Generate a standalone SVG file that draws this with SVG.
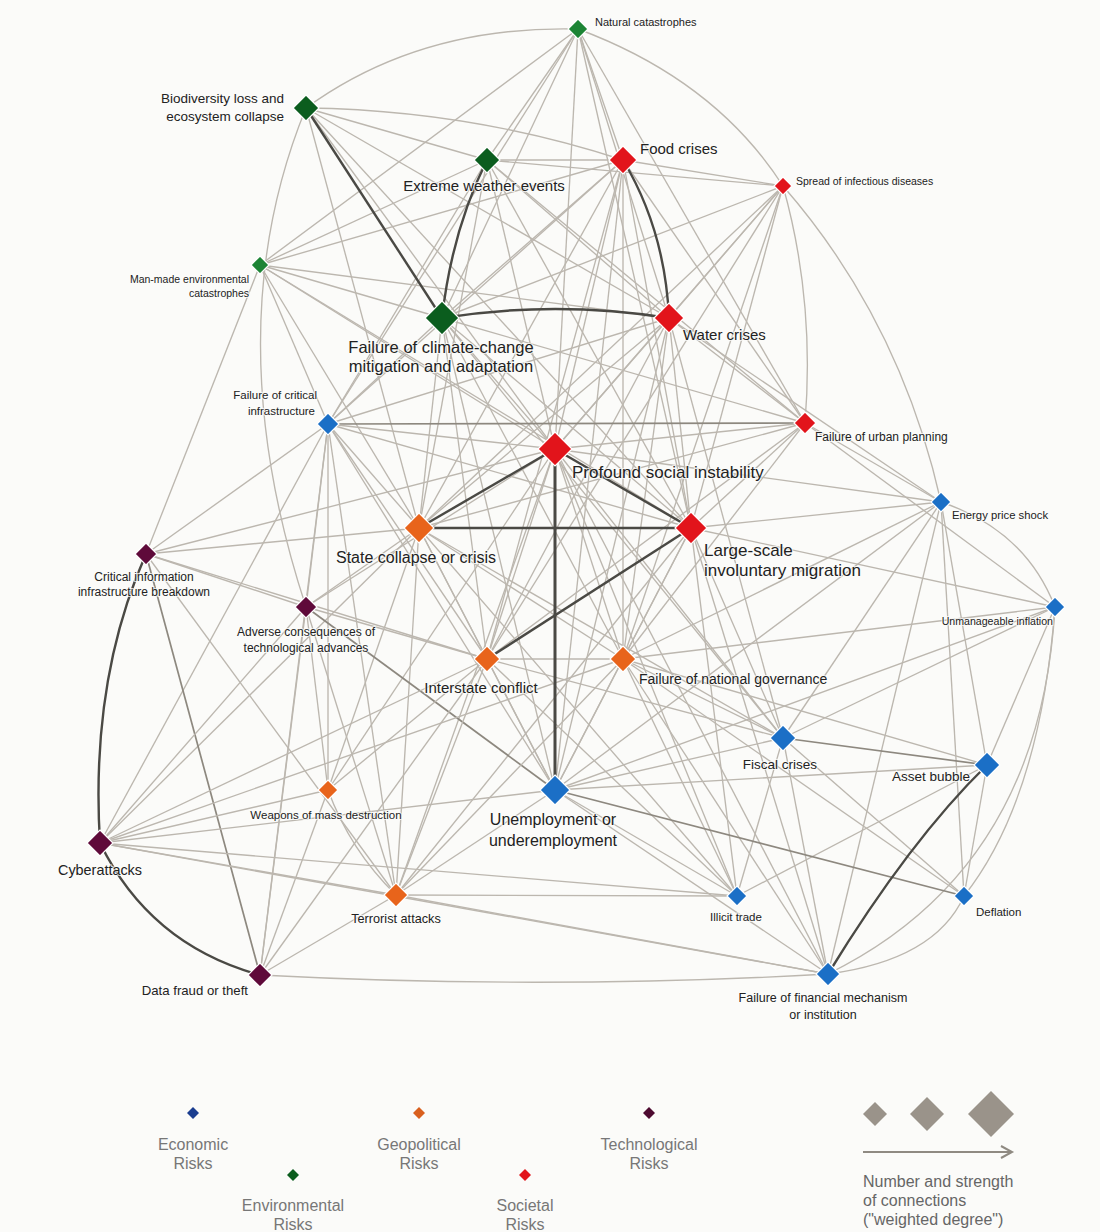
<svg xmlns="http://www.w3.org/2000/svg" width="1100" height="1232" viewBox="0 0 1100 1232">
<style>
.e{stroke:#bcb7af;stroke-width:1.35;fill:none}
.m{stroke:#8d887f;stroke-width:1.7;fill:none}
.d{stroke:#4a4944;stroke-width:2.4;fill:none}
.env{fill:#0b5d1e;stroke:#fff;stroke-width:1.2}
.env2{fill:#1c8434;stroke:#fff;stroke-width:1.2}
.soc{fill:#e2141b;stroke:#fff;stroke-width:1.2}
.geo{fill:#e8641b;stroke:#fff;stroke-width:1.2}
.eco{fill:#1b6fc6;stroke:#fff;stroke-width:1.2}
.tech{fill:#5f0a3a;stroke:#fff;stroke-width:1.2}
text{font-family:"Liberation Sans",Arial,sans-serif;fill:#222;stroke:#fbfbf9;stroke-width:2.2;stroke-opacity:0.75;paint-order:stroke}
.s{font-size:11px}
.sm{font-size:12px}
.md{font-size:13.5px}
.lg{font-size:15px}
.xl{font-size:17px}
.mid{text-anchor:middle}
.end{text-anchor:end}
.leg{font-size:16px;fill:#777;text-anchor:middle;stroke:none}
.leg2{font-size:16px;fill:#666;stroke:none}
</style>
<rect width="1100" height="1232" fill="#fbfbf9"/>
<g id="connectors">
<path class="e" d="M578,29 Q420,25 306,108"/>
<path class="e" d="M578,29 Q715,80 783,186"/>
<path class="e" d="M306,108 Q215,330 306,607"/>
<line class="e" x1="578" y1="29" x2="487" y2="160"/>
<line class="e" x1="578" y1="29" x2="442" y2="318"/>
<line class="e" x1="578" y1="29" x2="260" y2="265"/>
<line class="e" x1="578" y1="29" x2="623" y2="160"/>
<line class="e" x1="578" y1="29" x2="669" y2="318"/>
<line class="e" x1="578" y1="29" x2="555" y2="449"/>
<line class="e" x1="578" y1="29" x2="691" y2="528"/>
<line class="e" x1="578" y1="29" x2="328" y2="424"/>
<line class="e" x1="578" y1="29" x2="805" y2="423"/>
<line class="e" x1="306" y1="108" x2="487" y2="160"/>
<path class="e" d="M306,108 Q470,110 623,160"/>
<line class="e" x1="306" y1="108" x2="669" y2="318"/>
<line class="e" x1="306" y1="108" x2="555" y2="449"/>
<line class="e" x1="306" y1="108" x2="691" y2="528"/>
<line class="e" x1="306" y1="108" x2="419" y2="528"/>
<line class="e" x1="487" y1="160" x2="623" y2="160"/>
<line class="e" x1="487" y1="160" x2="669" y2="318"/>
<line class="e" x1="487" y1="160" x2="260" y2="265"/>
<line class="e" x1="487" y1="160" x2="555" y2="449"/>
<line class="e" x1="487" y1="160" x2="691" y2="528"/>
<line class="e" x1="487" y1="160" x2="328" y2="424"/>
<line class="e" x1="487" y1="160" x2="419" y2="528"/>
<line class="e" x1="487" y1="160" x2="805" y2="423"/>
<line class="e" x1="487" y1="160" x2="783" y2="186"/>
<line class="e" x1="623" y1="160" x2="783" y2="186"/>
<line class="e" x1="623" y1="160" x2="555" y2="449"/>
<line class="e" x1="623" y1="160" x2="691" y2="528"/>
<line class="e" x1="623" y1="160" x2="419" y2="528"/>
<line class="e" x1="623" y1="160" x2="442" y2="318"/>
<line class="e" x1="623" y1="160" x2="260" y2="265"/>
<line class="e" x1="623" y1="160" x2="487" y2="659"/>
<line class="e" x1="623" y1="160" x2="623" y2="659"/>
<line class="e" x1="623" y1="160" x2="805" y2="423"/>
<line class="e" x1="623" y1="160" x2="328" y2="424"/>
<line class="e" x1="623" y1="160" x2="555" y2="790"/>
<line class="e" x1="783" y1="186" x2="555" y2="449"/>
<line class="e" x1="783" y1="186" x2="691" y2="528"/>
<line class="e" x1="783" y1="186" x2="442" y2="318"/>
<line class="e" x1="783" y1="186" x2="669" y2="318"/>
<line class="e" x1="783" y1="186" x2="623" y2="659"/>
<line class="e" x1="783" y1="186" x2="419" y2="528"/>
<path class="e" d="M783,186 Q815,300 805,423"/>
<path class="e" d="M783,186 Q900,320 941,502"/>
<line class="e" x1="783" y1="186" x2="487" y2="659"/>
<line class="e" x1="260" y1="265" x2="442" y2="318"/>
<line class="e" x1="260" y1="265" x2="669" y2="318"/>
<line class="e" x1="260" y1="265" x2="555" y2="449"/>
<line class="e" x1="260" y1="265" x2="328" y2="424"/>
<line class="e" x1="260" y1="265" x2="691" y2="528"/>
<line class="e" x1="260" y1="265" x2="146" y2="554"/>
<line class="e" x1="260" y1="265" x2="419" y2="528"/>
<line class="e" x1="442" y1="318" x2="555" y2="449"/>
<line class="e" x1="442" y1="318" x2="691" y2="528"/>
<line class="e" x1="442" y1="318" x2="419" y2="528"/>
<line class="e" x1="442" y1="318" x2="487" y2="659"/>
<line class="e" x1="442" y1="318" x2="328" y2="424"/>
<line class="e" x1="442" y1="318" x2="805" y2="423"/>
<line class="e" x1="442" y1="318" x2="623" y2="659"/>
<line class="e" x1="442" y1="318" x2="555" y2="790"/>
<line class="e" x1="442" y1="318" x2="783" y2="738"/>
<line class="e" x1="669" y1="318" x2="555" y2="449"/>
<line class="e" x1="669" y1="318" x2="691" y2="528"/>
<line class="e" x1="669" y1="318" x2="419" y2="528"/>
<line class="e" x1="669" y1="318" x2="487" y2="659"/>
<line class="e" x1="669" y1="318" x2="623" y2="659"/>
<line class="e" x1="669" y1="318" x2="805" y2="423"/>
<line class="e" x1="669" y1="318" x2="328" y2="424"/>
<line class="e" x1="669" y1="318" x2="555" y2="790"/>
<line class="e" x1="669" y1="318" x2="941" y2="502"/>
<line class="e" x1="669" y1="318" x2="783" y2="738"/>
<line class="m" x1="328" y1="424" x2="805" y2="423"/>
<line class="e" x1="328" y1="424" x2="146" y2="554"/>
<line class="e" x1="328" y1="424" x2="306" y2="607"/>
<line class="e" x1="328" y1="424" x2="100" y2="843"/>
<line class="e" x1="328" y1="424" x2="419" y2="528"/>
<line class="e" x1="328" y1="424" x2="487" y2="659"/>
<line class="e" x1="328" y1="424" x2="555" y2="449"/>
<line class="e" x1="328" y1="424" x2="555" y2="790"/>
<line class="e" x1="328" y1="424" x2="328" y2="790"/>
<line class="e" x1="328" y1="424" x2="396" y2="895"/>
<line class="e" x1="328" y1="424" x2="691" y2="528"/>
<line class="e" x1="328" y1="424" x2="260" y2="975"/>
<line class="e" x1="805" y1="423" x2="555" y2="449"/>
<line class="e" x1="805" y1="423" x2="691" y2="528"/>
<line class="e" x1="805" y1="423" x2="419" y2="528"/>
<line class="e" x1="805" y1="423" x2="941" y2="502"/>
<line class="e" x1="805" y1="423" x2="1055" y2="607"/>
<line class="e" x1="805" y1="423" x2="623" y2="659"/>
<line class="e" x1="805" y1="423" x2="487" y2="659"/>
<line class="e" x1="555" y1="449" x2="487" y2="659"/>
<line class="e" x1="555" y1="449" x2="623" y2="659"/>
<line class="e" x1="555" y1="449" x2="783" y2="738"/>
<line class="e" x1="555" y1="449" x2="396" y2="895"/>
<line class="e" x1="555" y1="449" x2="737" y2="896"/>
<line class="e" x1="555" y1="449" x2="146" y2="554"/>
<line class="e" x1="555" y1="449" x2="306" y2="607"/>
<line class="e" x1="555" y1="449" x2="328" y2="790"/>
<line class="e" x1="555" y1="449" x2="941" y2="502"/>
<line class="e" x1="555" y1="449" x2="828" y2="974"/>
<line class="e" x1="941" y1="502" x2="691" y2="528"/>
<line class="e" x1="941" y1="502" x2="987" y2="765"/>
<line class="e" x1="941" y1="502" x2="964" y2="896"/>
<line class="e" x1="941" y1="502" x2="783" y2="738"/>
<line class="e" x1="941" y1="502" x2="555" y2="790"/>
<line class="e" x1="941" y1="502" x2="828" y2="974"/>
<line class="e" x1="941" y1="502" x2="623" y2="659"/>
<path class="e" d="M941,502 Q1025,530 1055,607"/>
<line class="e" x1="419" y1="528" x2="487" y2="659"/>
<line class="e" x1="419" y1="528" x2="623" y2="659"/>
<line class="e" x1="419" y1="528" x2="396" y2="895"/>
<line class="e" x1="419" y1="528" x2="328" y2="790"/>
<line class="e" x1="419" y1="528" x2="555" y2="790"/>
<line class="e" x1="419" y1="528" x2="737" y2="896"/>
<line class="e" x1="419" y1="528" x2="100" y2="843"/>
<line class="e" x1="419" y1="528" x2="146" y2="554"/>
<line class="e" x1="419" y1="528" x2="783" y2="738"/>
<line class="e" x1="419" y1="528" x2="306" y2="607"/>
<line class="e" x1="691" y1="528" x2="623" y2="659"/>
<line class="e" x1="691" y1="528" x2="555" y2="790"/>
<line class="e" x1="691" y1="528" x2="783" y2="738"/>
<line class="e" x1="691" y1="528" x2="396" y2="895"/>
<line class="e" x1="691" y1="528" x2="1055" y2="607"/>
<line class="e" x1="691" y1="528" x2="737" y2="896"/>
<line class="e" x1="691" y1="528" x2="828" y2="974"/>
<line class="m" x1="146" y1="554" x2="260" y2="975"/>
<line class="e" x1="146" y1="554" x2="306" y2="607"/>
<line class="e" x1="146" y1="554" x2="396" y2="895"/>
<line class="e" x1="146" y1="554" x2="487" y2="659"/>
<line class="e" x1="1055" y1="607" x2="783" y2="738"/>
<line class="e" x1="1055" y1="607" x2="987" y2="765"/>
<path class="e" d="M1055,607 Q1040,800 964,896"/>
<path class="e" d="M1055,607 Q1040,870 828,974"/>
<line class="e" x1="1055" y1="607" x2="555" y2="790"/>
<line class="e" x1="1055" y1="607" x2="623" y2="659"/>
<line class="e" x1="306" y1="607" x2="100" y2="843"/>
<line class="e" x1="306" y1="607" x2="260" y2="975"/>
<line class="e" x1="306" y1="607" x2="396" y2="895"/>
<line class="e" x1="306" y1="607" x2="328" y2="790"/>
<line class="m" x1="306" y1="607" x2="555" y2="790"/>
<line class="e" x1="306" y1="607" x2="487" y2="659"/>
<line class="e" x1="487" y1="659" x2="623" y2="659"/>
<line class="e" x1="487" y1="659" x2="396" y2="895"/>
<line class="e" x1="487" y1="659" x2="328" y2="790"/>
<line class="e" x1="487" y1="659" x2="555" y2="790"/>
<line class="e" x1="487" y1="659" x2="100" y2="843"/>
<line class="e" x1="487" y1="659" x2="737" y2="896"/>
<line class="e" x1="487" y1="659" x2="783" y2="738"/>
<line class="e" x1="487" y1="659" x2="260" y2="975"/>
<line class="e" x1="623" y1="659" x2="783" y2="738"/>
<line class="e" x1="623" y1="659" x2="555" y2="790"/>
<line class="e" x1="623" y1="659" x2="737" y2="896"/>
<line class="e" x1="623" y1="659" x2="828" y2="974"/>
<line class="e" x1="623" y1="659" x2="396" y2="895"/>
<line class="e" x1="623" y1="659" x2="987" y2="765"/>
<line class="e" x1="623" y1="659" x2="100" y2="843"/>
<line class="e" x1="623" y1="659" x2="964" y2="896"/>
<line class="m" x1="783" y1="738" x2="987" y2="765"/>
<line class="e" x1="783" y1="738" x2="555" y2="790"/>
<line class="e" x1="783" y1="738" x2="964" y2="896"/>
<line class="e" x1="783" y1="738" x2="828" y2="974"/>
<line class="e" x1="783" y1="738" x2="737" y2="896"/>
<line class="e" x1="987" y1="765" x2="964" y2="896"/>
<line class="e" x1="987" y1="765" x2="555" y2="790"/>
<line class="e" x1="987" y1="765" x2="737" y2="896"/>
<path class="e" d="M328,790 Q350,850 396,895"/>
<line class="e" x1="328" y1="790" x2="260" y2="975"/>
<line class="e" x1="328" y1="790" x2="100" y2="843"/>
<line class="m" x1="555" y1="790" x2="964" y2="896"/>
<line class="e" x1="555" y1="790" x2="828" y2="974"/>
<line class="e" x1="555" y1="790" x2="737" y2="896"/>
<line class="e" x1="555" y1="790" x2="396" y2="895"/>
<line class="e" x1="555" y1="790" x2="100" y2="843"/>
<line class="e" x1="100" y1="843" x2="396" y2="895"/>
<line class="e" x1="100" y1="843" x2="737" y2="896"/>
<line class="e" x1="100" y1="843" x2="828" y2="974"/>
<line class="e" x1="396" y1="895" x2="260" y2="975"/>
<line class="e" x1="396" y1="895" x2="737" y2="896"/>
<line class="e" x1="396" y1="895" x2="828" y2="974"/>
<path class="e" d="M260,975 Q545,990 828,974"/>
<path class="e" d="M964,896 Q935,960 828,974"/>
<line class="d" x1="306" y1="108" x2="442" y2="318"/>
<path class="d" d="M487,160 Q452,230 442,318"/>
<path class="d" d="M442,318 Q555,300 669,318"/>
<path class="d" d="M623,160 Q665,230 669,318"/>
<line class="d" x1="555" y1="449" x2="555" y2="790" style="stroke-width:3"/>
<line class="d" x1="555" y1="449" x2="419" y2="528"/>
<line class="d" x1="555" y1="449" x2="691" y2="528"/>
<line class="d" x1="419" y1="528" x2="691" y2="528"/>
<line class="d" x1="487" y1="659" x2="691" y2="528"/>
<path class="d" d="M146,554 Q90,680 100,843"/>
<path class="d" d="M100,843 Q150,945 260,975"/>
<path class="d" d="M987,765 Q910,840 828,974"/>
</g>
<g id="node-natural-catastrophes"><polygon class="env2" points="578,19 588,29 578,39 568,29"/><text class="s" x="595" y="26">Natural catastrophes</text></g>
<g id="node-biodiversity"><polygon class="env" points="306,95 319,108 306,121 293,108"/><text class="md end" x="284" y="103">Biodiversity loss and</text><text class="md end" x="284" y="121">ecosystem collapse</text></g>
<g id="node-extreme-weather"><polygon class="env" points="487,147 500,160 487,173 474,160"/><text class="lg mid" x="484" y="191">Extreme weather events</text></g>
<g id="node-food-crises"><polygon class="soc" points="623,146 637,160 623,174 609,160"/><text class="lg" x="640" y="154">Food crises</text></g>
<g id="node-infectious-diseases"><polygon class="soc" points="783,177 792,186 783,195 774,186"/><text class="s" x="796" y="185" style="font-size:10.5px">Spread of infectious diseases</text></g>
<g id="node-man-made"><polygon class="env2" points="260,256 269,265 260,274 251,265"/><text class="s end" x="249" y="283" style="font-size:10.5px">Man-made environmental</text><text class="s end" x="249" y="297" style="font-size:10.5px">catastrophes</text></g>
<g id="node-climate-change"><polygon class="env" points="442,301 459,318 442,335 425,318"/><text class="mid" x="441" y="353" style="font-size:16.5px">Failure of climate-change</text><text class="mid" x="441" y="372" style="font-size:16.5px">mitigation and adaptation</text></g>
<g id="node-water-crises"><polygon class="soc" points="669,303 684,318 669,333 654,318"/><text class="lg" x="683" y="340">Water crises</text></g>
<g id="node-critical-infrastructure"><polygon class="eco" points="328,413 339,424 328,435 317,424"/><text class="s end" x="317" y="399" style="font-size:11.5px">Failure of critical</text><text class="s end" x="315" y="415" style="font-size:11.5px">infrastructure</text></g>
<g id="node-urban-planning"><polygon class="soc" points="805,412 816,423 805,434 794,423"/><text class="sm" x="815" y="441">Failure of urban planning</text></g>
<g id="node-social-instability"><polygon class="soc" points="555,432 572,449 555,466 538,449"/><text class="xl" x="572" y="478">Profound social instability</text></g>
<g id="node-energy-price"><polygon class="eco" points="941,492 951,502 941,512 931,502"/><text class="s" x="952" y="519" style="font-size:11.3px">Energy price shock</text></g>
<g id="node-state-collapse"><polygon class="geo" points="419,513 434,528 419,543 404,528"/><text class="mid" x="416" y="563" style="font-size:16px">State collapse or crisis</text></g>
<g id="node-migration"><polygon class="soc" points="691,512 707,528 691,544 675,528"/><text class="xl" x="704" y="556">Large-scale</text><text class="xl" x="704" y="576">involuntary migration</text></g>
<g id="node-info-breakdown"><polygon class="tech" points="146,543 157,554 146,565 135,554"/><text class="sm mid" x="144" y="581">Critical information</text><text class="sm mid" x="144" y="596">infrastructure breakdown</text></g>
<g id="node-inflation"><polygon class="eco" points="1055,597 1065,607 1055,617 1045,607"/><text class="s end" x="1053" y="625" style="font-size:10.6px">Unmanageable inflation</text></g>
<g id="node-adverse-tech"><polygon class="tech" points="306,596 317,607 306,618 295,607"/><text class="sm mid" x="306" y="636">Adverse consequences of</text><text class="sm mid" x="306" y="652">technological advances</text></g>
<g id="node-interstate-conflict"><polygon class="geo" points="487,646 500,659 487,672 474,659"/><text class="lg mid" x="481" y="693">Interstate conflict</text></g>
<g id="node-national-governance"><polygon class="geo" points="623,646 636,659 623,672 610,659"/><text class="s" x="639" y="684" style="font-size:14px">Failure of national governance</text></g>
<g id="node-fiscal-crises"><polygon class="eco" points="783,725 796,738 783,751 770,738"/><text class="md mid" x="780" y="769">Fiscal crises</text></g>
<g id="node-asset-bubble"><polygon class="eco" points="987,752 1000,765 987,778 974,765"/><text class="md end" x="970" y="781">Asset bubble</text></g>
<g id="node-wmd"><polygon class="geo" points="328,780 338,790 328,800 318,790"/><text class="s mid" x="326" y="819" style="font-size:11.5px">Weapons of mass destruction</text></g>
<g id="node-unemployment"><polygon class="eco" points="555,775 570,790 555,805 540,790"/><text class="mid" x="553" y="825" style="font-size:16px">Unemployment or</text><text class="mid" x="553" y="846" style="font-size:16px">underemployment</text></g>
<g id="node-cyberattacks"><polygon class="tech" points="100,830 113,843 100,856 87,843"/><text class="mid" x="100" y="875" style="font-size:14.4px">Cyberattacks</text></g>
<g id="node-terrorist-attacks"><polygon class="geo" points="396,883 408,895 396,907 384,895"/><text class="mid" x="396" y="923" style="font-size:12.7px">Terrorist attacks</text></g>
<g id="node-illicit-trade"><polygon class="eco" points="737,886 747,896 737,906 727,896"/><text class="s mid" x="736" y="921" style="font-size:11.5px">Illicit trade</text></g>
<g id="node-deflation"><polygon class="eco" points="964,886 974,896 964,906 954,896"/><text class="s" x="976" y="916" style="font-size:11.5px">Deflation</text></g>
<g id="node-data-fraud"><polygon class="tech" points="260,963 272,975 260,987 248,975"/><text class="end" x="248" y="995" style="font-size:13.2px">Data fraud or theft</text></g>
<g id="node-financial-mechanism"><polygon class="eco" points="828,962 840,974 828,986 816,974"/><text class="mid" x="823" y="1002" style="font-size:12.5px">Failure of financial mechanism</text><text class="mid" x="823" y="1019" style="font-size:12.5px">or institution</text></g>
<g id="legend">
<polygon fill="#1a3d8f" points="193,1107 199,1113 193,1119 187,1113"/>
<text class="leg" x="193" y="1150">Economic</text><text class="leg" x="193" y="1169">Risks</text>
<polygon fill="#d9601e" points="419,1107 425,1113 419,1119 413,1113"/>
<text class="leg" x="419" y="1150">Geopolitical</text><text class="leg" x="419" y="1169">Risks</text>
<polygon fill="#4d0a30" points="649,1107 655,1113 649,1119 643,1113"/>
<text class="leg" x="649" y="1150">Technological</text><text class="leg" x="649" y="1169">Risks</text>
<polygon fill="#0b5d1e" points="293,1169 299,1175 293,1181 287,1175"/>
<text class="leg" x="293" y="1211">Environmental</text><text class="leg" x="293" y="1230">Risks</text>
<polygon fill="#e2141b" points="525,1169 531,1175 525,1181 519,1175"/>
<text class="leg" x="525" y="1211">Societal</text><text class="leg" x="525" y="1230">Risks</text>
<polygon fill="#9a938a" points="875,1102 887,1114 875,1126 863,1114"/>
<polygon fill="#9a938a" points="927,1097 944,1114 927,1131 910,1114"/>
<polygon fill="#9a938a" points="991,1091 1014,1114 991,1137 968,1114"/>
<line x1="863" y1="1152" x2="1011" y2="1152" stroke="#8f8a82" stroke-width="2"/>
<path d="M1001,1146 L1012,1152 L1001,1158" fill="none" stroke="#8f8a82" stroke-width="2"/>
<text class="leg2" x="863" y="1187">Number and strength</text>
<text class="leg2" x="863" y="1206">of connections</text>
<text class="leg2" x="863" y="1225">("weighted degree")</text>
</g>
</svg>
